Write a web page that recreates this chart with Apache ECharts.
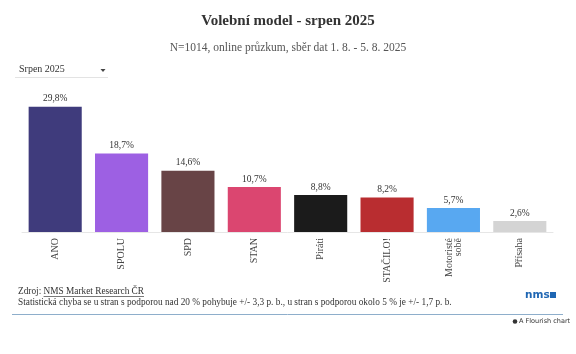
<!DOCTYPE html>
<html>
<head>
<meta charset="utf-8">
<script src="https://cdn.jsdelivr.net/npm/echarts@6/dist/echarts.min.js"></script>
<style>
  html, body { margin: 0; padding: 0; background: #fff; }
  #chart { width: 576px; height: 354px; }
</style>
</head>
<body>
<div id="chart"></div>
<script>
  // data
  var parties = ['ANO', 'SPOLU', 'SPD', 'STAN', 'Piráti', 'STAČILO!', 'Motoristé\nsobě', 'Přísaha'];
  var support = [29.8, 18.7, 14.6, 10.7, 8.8, 8.2, 5.7, 2.6];
  var barColors = ['#3f3b7c', '#9d60e3', '#684446', '#db4670', '#1b1b1b', '#b92d30', '#58a8f1', '#d4d4d4'];

  var serif = '"Liberation Serif", "DejaVu Serif", serif';
  var footFont = '9.3px ' + serif;

  // measure the "Zdroj: " prefix so the underline sits under the link only
  var ctx = document.createElement('canvas').getContext('2d');
  ctx.font = footFont;
  var linkX = 18 + ctx.measureText('Zdroj: ').width;
  var linkW = ctx.measureText('NMS Market Research ČR').width;

  var chart = echarts.init(document.getElementById('chart'));

  chart.setOption({
    animation: false,
    title: [{
      text: 'Volební model - srpen 2025',
      left: 'center',
      top: 9,
      textStyle: { fontFamily: serif, fontSize: 15, fontWeight: 'bold', color: '#333' }
    }, {
      text: 'N=1014, online průzkum, sběr dat 1. 8. - 5. 8. 2025',
      left: 'center',
      top: 37,
      textStyle: { fontFamily: serif, fontSize: 11.5, fontWeight: 'normal', color: '#555' }
    }],
    grid: { left: 22, right: 23, top: 106, bottom: 122 },
    xAxis: {
      type: 'category',
      data: parties,
      axisLine: { lineStyle: { color: '#e6e6e6' } },
      axisTick: { show: false },
      axisLabel: {
        rotate: 90,
        interval: 0,
        margin: 6,
        fontFamily: serif,
        fontSize: 10,
        color: '#444',
        lineHeight: 9
      }
    },
    yAxis: {
      type: 'value',
      min: 0,
      max: 30,
      show: false
    },
    series: [{
      type: 'bar',
      barCategoryGap: '20%',
      data: support.map(function (v, i) {
        return { value: v, itemStyle: { color: barColors[i] } };
      }),
      label: {
        show: true,
        position: 'top',
        distance: 3,
        fontFamily: serif,
        fontSize: 9.5,
        color: '#333',
        formatter: function (p) { return String(p.value).replace('.', ',') + '%'; }
      }
    }],
    graphic: [
      // dropdown
      { type: 'text', left: 19, top: 64, style: { text: 'Srpen 2025', font: '10px ' + serif, fill: '#333' } },
      { type: 'polygon', shape: { points: [[100.5, 69], [105.5, 69], [103, 72]] }, style: { fill: '#444' } },
      { type: 'line', shape: { x1: 15, y1: 77.5, x2: 108, y2: 77.5 }, style: { stroke: '#e3e3e3', lineWidth: 1 } },
      // footer
      { type: 'text', left: 18, top: 287, style: { text: 'Zdroj: NMS Market Research ČR', font: footFont, fill: '#333' } },
      { type: 'line', z: 10, shape: { x1: linkX, y1: 296.5, x2: linkX + linkW, y2: 296.5 }, style: { stroke: '#555', lineWidth: 0.8 } },
      { type: 'text', left: 18, top: 298.5, style: { text: 'Statistická chyba se u stran s podporou nad 20 % pohybuje +/- 3,3 p. b., u stran s podporou okolo 5 % je +/- 1,7 p. b.', font: footFont, fill: '#333' } },
      { type: 'text', left: 525, top: 290, style: { text: 'nms', font: 'bold 10.5px "DejaVu Sans", sans-serif', fill: '#1f66b3' } },
      { type: 'rect', shape: { x: 550, y: 292, width: 6, height: 6 }, style: { fill: '#1f66b3' } },
      { type: 'line', shape: { x1: 12, y1: 314.5, x2: 563, y2: 314.5 }, style: { stroke: '#8eaecb', lineWidth: 1 } },
      { type: 'circle', shape: { cx: 515, cy: 321.5, r: 2.3 }, style: { fill: '#333' } },
      { type: 'text', left: 519, top: 318, style: { text: 'A Flourish chart', font: '6.5px "DejaVu Sans", sans-serif', fill: '#333' } }
    ]
  });
</script>
</body>
</html>
